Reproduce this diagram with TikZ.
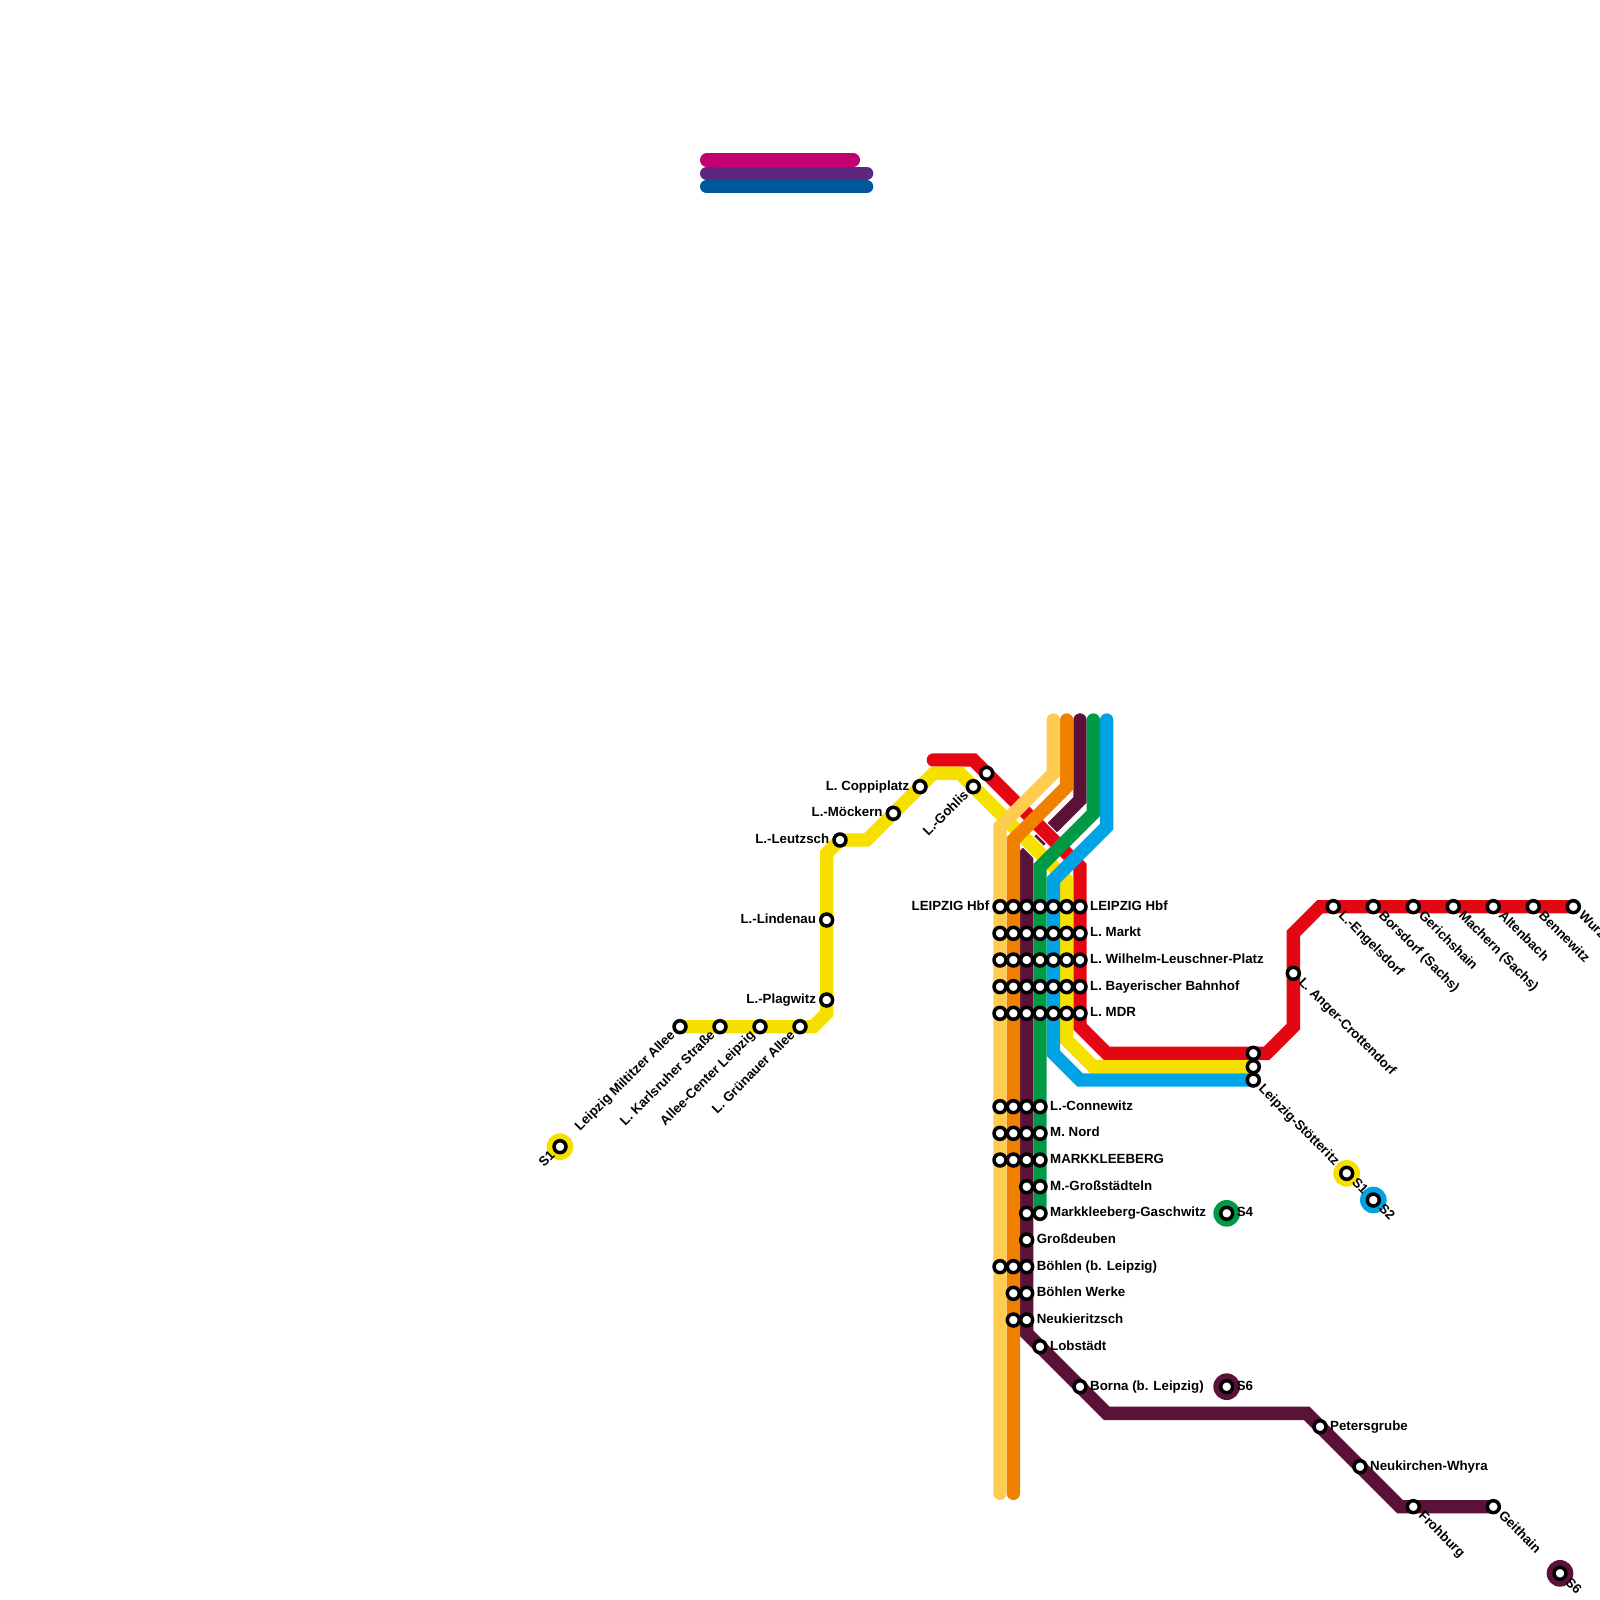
\documentclass[tikz,border=0pt]{standalone}
\usepackage{xcolor}
\usepackage{fontspec}
\setmainfont{Liberation Sans}
\usetikzlibrary{backgrounds}
\definecolor{slred}{HTML}{E30613}
\definecolor{slyellow}{HTML}{F6E000}
\definecolor{slblue}{HTML}{00A3E6}
\definecolor{slgreen}{HTML}{009A44}
\definecolor{slplum}{HTML}{5A1238}
\definecolor{slorange}{HTML}{F08000}
\definecolor{sllight}{HTML}{FFCC50}
\definecolor{slpink}{HTML}{C40070}
\definecolor{slviolet}{HTML}{5F2680}
\definecolor{slnavy}{HTML}{00589C}
\tikzset{
 metro/.style={line width=.4cm, line cap=round, line join=miter},
 halo/.style={white, line width=.48cm, line cap=butt},
 stn/.style={circle, draw=black, fill=white, line width=3pt, minimum size=10.2pt, inner sep=0},
 term/.style={circle, fill=#1, minimum size=.8cm, inner sep=0},
 lbl/.style={font=\fontsize{11.35}{13}\selectfont\bfseries, inner sep=0, text height=6.5pt, text depth=.5pt},
 lblr/.style={lbl, anchor=west, xshift=8.5pt},
 lbll/.style={lbl, anchor=east, xshift=-9pt},
 lbldown/.style={lbl, anchor=west, rotate=-45, xshift=8.5pt},
 lblup/.style={lbl, anchor=east, rotate=45, xshift=-8pt}
}
\begin{document}
\begin{tikzpicture}[x=.4cm, y=-.4cm]
\clip (0,0) rectangle (120,120);
\foreach \y/\n in {68/hbf,70/markt,72/leuschner,74/bayer,76/mdr} {
 \foreach \x in {75,...,81} {
  \node[stn] (\n\x) at (\x,\y) {};
 }
}
\foreach \y/\n in {83/connewitz,85/mnord,87/mkb} {
 \foreach \x in {75,...,78} {
  \node[stn] (\n\x) at (\x,\y) {};
 }
}
\foreach \y/\n in {89/grossst,91/gaschwitz} {
 \foreach \x in {77,78} {
  \node[stn] (\n\x) at (\x,\y) {};
 }
}
\node[stn] (deuben77) at (77,93) {};
\foreach \x in {75,76,77} {
 \node[stn] (boehlen\x) at (\x,95) {};
}
\foreach \y/\n in {97/werke,99/neuk} {
 \foreach \x in {76,77} {
  \node[stn] (\n\x) at (\x,\y) {};
 }
}
\foreach \x/\y/\n in {51/77/miltitz,54/77/karlsr,57/77/allee,60/77/gruen,62/75/plagw,62/69/linden,63/63/leutz,67/61/moeck,69/59/coppi,73/59/gohlis,74/58/gohlisb,78/101/lobst,81/104/borna,99/107/peters,102/110/whyra,106/113/frohb,112/113/geith,94/79/stoea,94/80/stoeb,94/81/stoec,97/73/anger,100/68/engels,103/68/borsd,106/68/gerich,109/68/machern,112/68/altenb,115/68/bennew,118/68/wurzen} {
 \node[stn] (\n) at (\x,\y) {};
}
\node[term=slyellow] (sawdisc) at (42,86) {};
\node[stn] (saw) at (42,86) {};
\node[term=slyellow] (saedisc) at (101,88) {};
\node[stn] (sae) at (101,88) {};
\node[term=slblue] (sbdisc) at (103,90) {};
\node[stn] (sb) at (103,90) {};
\node[term=slgreen] (sddisc) at (92,91) {};
\node[stn] (sd) at (92,91) {};
\node[term=slplum] (sfdisc) at (92,104) {};
\node[stn] (sf) at (92,104) {};
\node[term=slplum] (sgdisc) at (117,118) {};
\node[stn] (sg) at (117,118) {};
\begin{pgfonlayer}{background}
\draw[metro,slpink] (53,12) -- (64,12);
\draw[metro,slviolet] (53,13) -- (65,13);
\draw[metro,slnavy] (53,14) -- (65,14);
\draw[metro,slplum] (81,54) -- (81,60) -- (77,64) -- (77,100) -- (83,106) -- (98,106) -- (105,113) -- (geith.center);
\draw[halo] (77.5,61.5) -- (79.5,63.5);
\draw[metro,slred] (70,57) -- (73,57) -- (81,65) -- (81,77) -- (83,79) -- (95,79) -- (97,77) -- (97,70) -- (99,68) -- (wurzen.center);
\draw[halo] (76.5,62.5) -- (78.5,64.5);
\draw[metro,slyellow] (miltitz.center) -- (61,77) -- (62,76) -- (62,64) -- (63,63) -- (65,63) -- (70,58) -- (72,58) -- (80,66) -- (80,78) -- (82,80) -- (stoeb.center);
\draw[metro,slblue] (83,54) -- (83,62) -- (79,66) -- (79,79) -- (81,81) -- (stoec.center);
\draw[metro,slgreen] (82,54) -- (82,61) -- (78,65) -- (gaschwitz78.center);
\draw[metro,slorange] (80,54) -- (80,59) -- (76,63) -- (76,112);
\draw[metro,sllight] (79,54) -- (79,58) -- (75,62) -- (75,112);
\end{pgfonlayer}
\foreach \n/\t in {hbf75/LEIPZIG Hbf,leutz/L.-Leutzsch,moeck/L.-M\"ockern,coppi/L. Coppiplatz,linden/L.-Lindenau,plagw/L.-Plagwitz} {
 \node[lbll] (txt\n) at (\n) {\t};
}
\foreach \n/\t in {hbf81/LEIPZIG Hbf,markt81/L. Markt,leuschner81/L. Wilhelm-Leuschner-Platz,bayer81/L. Bayerischer Bahnhof,mdr81/L. MDR,connewitz78/L.-Connewitz,mnord78/M. Nord,mkb78/MARKKLEEBERG,grossst78/M.-Gro\ss st\"adteln,gaschwitz78/Markkleeberg-Gaschwitz,deuben77/Gro\ss deuben,boehlen77/B\"ohlen (b. Leipzig),werke77/B\"ohlen Werke,neuk77/Neukieritzsch,lobst/Lobst\"adt,borna/Borna (b. Leipzig),peters/Petersgrube,whyra/Neukirchen-Whyra,sd/S4,sf/S6} {
 \node[lblr] (txt\n) at (\n) {\t};
}
\foreach \n/\t in {gohlis/L.-Gohlis,miltitz/Leipzig Miltitzer Allee,karlsr/L. Karlsruher Stra\ss e,allee/Allee-Center Leipzig,gruen/L. Gr\"unauer Allee,saw/S1} {
 \node[lblup] (txt\n) at (\n) {\t};
}
\foreach \n/\t in {engels/L.-Engelsdorf,borsd/Borsdorf (Sachs),gerich/Gerichshain,machern/Machern (Sachs),altenb/Altenbach,bennew/Bennewitz,wurzen/Wurzen,anger/L. Anger-Crottendorf,stoec/Leipzig-St\"otteritz,sae/S1,sb/S2,frohb/Frohburg,geith/Geithain,sg/S6} {
 \node[lbldown] (txt\n) at (\n) {\t};
}
\end{tikzpicture}
\end{document}
